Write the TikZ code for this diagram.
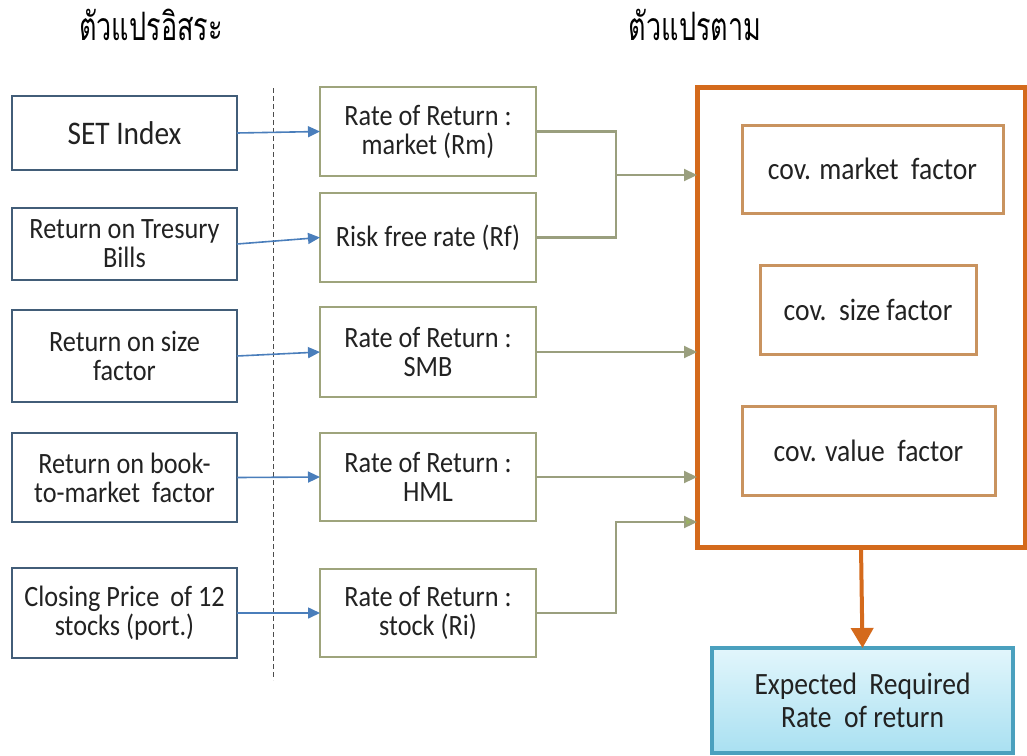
\documentclass[tikz,border=0pt]{standalone}
\usepackage{fontspec}
\setmainfont{Carlito}[FakeStretch=0.89]
\newfontfamily\thaifont[Script=Thai]{Loma}
\usetikzlibrary{arrows.meta}
\definecolor{leftc}{HTML}{425D78}
\definecolor{bluearr}{HTML}{4A7EBB}
\definecolor{midc}{HTML}{9EA47C}
\definecolor{greenarr}{HTML}{9A9F7E}
\definecolor{greentip}{HTML}{9BB163}
\definecolor{orangec}{HTML}{D46A1C}
\definecolor{tanc}{HTML}{C9935F}
\definecolor{expc}{HTML}{4AA0BE}
\definecolor{exptop}{HTML}{E2F6FC}
\definecolor{expbot}{HTML}{A9E0F1}
\definecolor{txtc}{HTML}{222222}
\begin{document}
\begin{tikzpicture}[x=1pt,y=-1pt,
  every node/.style={text=txtc, align=center, inner sep=0pt, outer sep=0pt},
  leftbox/.style={draw=leftc, line width=2.6pt, minimum width=225pt, font=\fontsize{29.5}{29}\selectfont},
  midbox/.style={draw=midc, line width=2.6pt, minimum width=216pt, minimum height=89pt, font=\fontsize{29.5}{29}\selectfont},
  covbox/.style={draw=tanc, line width=3pt, minimum height=89pt, font=\fontsize{31}{31}\selectfont},
  titletext/.style={font=\thaifont\fontsize{27}{30}\selectfont, text=black},
  bluearrow/.style={draw=bluearr, line width=1.6pt, -{Triangle[length=12pt,width=11pt]}},
  greenline/.style={draw=greenarr, line width=2.2pt},
  greenarrow/.style={greenline, -{Triangle[length=13pt,width=12pt]}},
  divider/.style={draw=black!70, line width=0.9pt, dash pattern=on 5pt off 3pt}
]
\useasboundingbox (0,0) rectangle (1027,755);

% titles
\node[titletext] (t1) at (151,25) {\scalebox{1}[1.45]{ตัวแปรอิสระ}};
\node[titletext] (t2) at (695,25) {\scalebox{1}[1.45]{ตัวแปรตาม}};

% divider
\coordinate (d1) at (273,88);
\coordinate (d2) at (273,680);
\draw[divider] (d1) -- (d2);

% left boxes
\node[leftbox, minimum height=74pt, font=\fontsize{33}{32}\selectfont] (l1) at (124.5,133) {SET Index};
\node[leftbox, minimum height=72pt] (l2) at (124.5,244) {Return on Tresury\\Bills};
\node[leftbox, minimum height=92pt] (l3) at (124.5,356) {Return on size\\factor};
\node[leftbox, minimum height=89pt] (l4) at (124.5,477.5) {Return on book-\\to-market\ \ factor};
\node[leftbox, minimum height=90pt] (l5) at (124.5,613) {Closing Price\,\ of 12\\stocks (port.)};

% middle boxes
\node[midbox] (m1) at (428,131.5) {Rate of Return :\\market (Rm)};
\node[midbox] (m2) at (428,237.5) {Risk free rate (Rf)};
\node[midbox, minimum height=90pt] (m3) at (428,352) {Rate of Return :\\SMB};
\node[midbox, minimum height=88pt] (m4) at (428,477) {Rate of Return :\\HML};
\node[midbox, minimum height=88pt] (m5) at (428,613) {Rate of Return :\\stock (Ri)};

% outer orange box and contents
\node[draw=orangec, line width=5pt, minimum width=328pt, minimum height=460pt] (ob) at (861,317) {};
\node[covbox, minimum width=261pt, minimum height=88pt] (c1) at (872.5,169) {cov. market\ \ factor};
\node[covbox, minimum width=216pt] (c2) at (868,309.5) {cov.\ \ size factor};
\node[covbox, minimum width=253pt] (c3) at (868.5,450.5) {cov. value\ \ factor};

% expected box
\node[draw=expc, line width=3.5pt, top color=exptop, bottom color=expbot,
      minimum width=301pt, minimum height=105pt, font=\fontsize{31}{33}\selectfont] (ex) at (862.5,700.5)
      {Expected\ \ Required\\Rate\ \ of return};

% blue arrows
\draw[bluearrow] (l1.east) -- (m1.west);
\draw[bluearrow] (l2.east) -- (m2.west);
\draw[bluearrow] (l3.east) -- (m3.west);
\draw[bluearrow] (l4.east) -- (m4.west);
\draw[bluearrow] (l5.east) -- (m5.west);

% green connectors
\coordinate (j1) at (616,175);
\coordinate (j2) at (616,522);
\draw[greenline] (m1.east) -| (j1) |- (m2.east);
\draw[greenarrow] (j1) -- (j1 -| ob.west);
\draw[greenarrow] (m3.east) -- (m3.east -| ob.west);
\draw[greenarrow] (m4.east) -- (m4.east -| ob.west);
\draw[greenline, -{Triangle[length=13pt,width=12pt,fill=greentip]}] (m5.east) -| (j2) -- (j2 -| ob.west);

% orange arrow
\draw[draw=orangec, line width=4pt, -{Triangle[length=20pt,width=22pt]}] (ob.south) -- (ex.north);
\end{tikzpicture}
\end{document}
